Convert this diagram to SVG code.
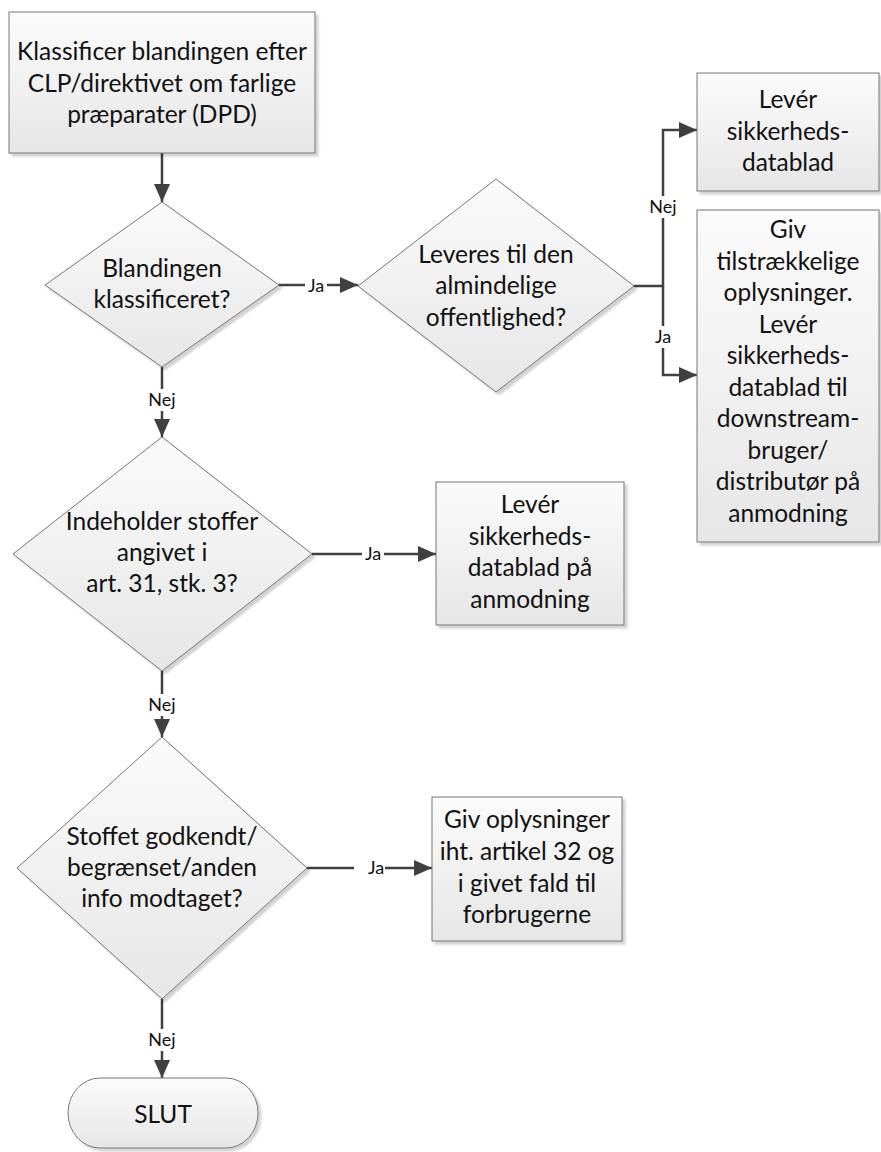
<svg xmlns="http://www.w3.org/2000/svg" width="881" height="1152" viewBox="0 0 881 1152">
<style>
.shape{fill:url(#g);stroke:#767676;stroke-width:1;filter:url(#sh)}
.t{font-family:Lato,"Liberation Sans",sans-serif;font-size:24.5px;fill:#111;text-anchor:middle}
.c{fill:none;stroke:#404040;stroke-width:2.5}
.ca{fill:none;stroke:#404040;stroke-width:2.5;marker-end:url(#ah)}
.lb{fill:#fff}
.l{font-family:Lato,"Liberation Sans",sans-serif;font-size:18px;fill:#111;text-anchor:middle}
</style>
<defs>
<linearGradient id="g" x1="0" y1="0" x2="0" y2="1">
<stop offset="0" stop-color="#fbfbfb"/>
<stop offset="1" stop-color="#e6e6e6"/>
</linearGradient>
<filter id="sh" x="-10%" y="-10%" width="130%" height="130%">
<feDropShadow dx="3" dy="3" stdDeviation="1" flood-color="#000" flood-opacity="0.18"/>
</filter>
<marker id="ah" markerUnits="userSpaceOnUse" markerWidth="18" markerHeight="16" refX="18" refY="8" orient="auto">
<path d="M0,0 L18,8 L0,16 z" fill="#404040"/>
</marker>
</defs>
<rect width="881" height="1152" fill="#fff"/>

<g id="connectors">
<path class="ca" d="M162,153 V202"/>
<path class="ca" d="M279,285 H358"/>
<path class="ca" d="M634,286 H663 V130 H697"/>
<path class="ca" d="M663,286 V375 H697"/>
<path class="ca" d="M162,367 V437"/>
<path class="ca" d="M312,554 H436"/>
<path class="ca" d="M162,671 V737"/>
<path class="ca" d="M307,868 H432"/>
<path class="ca" d="M162,999 V1078"/>
<g id="labels">
<rect class="lb" x="305" y="276" width="22" height="19"/><text class="l" x="316" y="291.5">Ja</text>
<rect class="lb" x="646" y="196" width="34" height="22"/><text class="l" x="663" y="213">Nej</text>
<rect class="lb" x="652" y="326" width="22" height="22"/><text class="l" x="663" y="343">Ja</text>
<rect class="lb" x="145" y="389" width="34" height="22"/><text class="l" x="162" y="406">Nej</text>
<rect class="lb" x="362" y="544" width="22" height="20"/><text class="l" x="373" y="560">Ja</text>
<rect class="lb" x="145" y="694" width="34" height="22"/><text class="l" x="162" y="711">Nej</text>
<rect class="lb" x="354" y="858" width="31" height="20"/><text class="l" x="376" y="874">Ja</text>
<rect class="lb" x="145" y="1029" width="34" height="22"/><text class="l" x="162" y="1046">Nej</text>
</g>
</g>

<g id="start">
<rect class="shape" x="9" y="12" width="306" height="141"/>
<text class="t" x="162" y="60">Klassificer blandingen efter</text>
<text class="t" x="162" y="91.5">CLP/direktivet om farlige</text>
<text class="t" x="162" y="123">præparater (DPD)</text>
</g>

<g id="d1">
<polygon class="shape" points="162,202 279,285 162,367 45,285"/>
<text class="t" x="162" y="277">Blandingen</text>
<text class="t" x="162" y="308">klassificeret?</text>
</g>

<g id="d2">
<polygon class="shape" points="496,179 634,286 496,392 358,286"/>
<text class="t" x="496" y="262.5">Leveres til den</text>
<text class="t" x="496" y="294">almindelige</text>
<text class="t" x="496" y="325.5">offentlighed?</text>
</g>

<g id="boxA">
<rect class="shape" x="697" y="73" width="182" height="118"/>
<text class="t" x="788" y="108">Levér</text>
<text class="t" x="788" y="140">sikkerheds-</text>
<text class="t" x="788" y="171">datablad</text>
</g>

<g id="boxB">
<rect class="shape" x="697" y="210" width="182" height="332"/>
<text class="t" x="788" y="238">Giv</text>
<text class="t" x="788" y="269.5">tilstrækkelige</text>
<text class="t" x="788" y="301">oplysninger.</text>
<text class="t" x="788" y="332.5">Levér</text>
<text class="t" x="788" y="364">sikkerheds-</text>
<text class="t" x="788" y="395.5">datablad til</text>
<text class="t" x="788" y="427">downstream-</text>
<text class="t" x="788" y="458.5">bruger/</text>
<text class="t" x="788" y="490">distributør på</text>
<text class="t" x="788" y="521.5">anmodning</text>
</g>

<g id="d3">
<polygon class="shape" points="162,437 312,554 162,671 13,554"/>
<text class="t" x="162" y="530">Indeholder stoffer</text>
<text class="t" x="162" y="561">angivet i</text>
<text class="t" x="162" y="592">art. 31, stk. 3?</text>
</g>

<g id="boxC">
<rect class="shape" x="436" y="482" width="188" height="143"/>
<text class="t" x="530" y="513">Levér</text>
<text class="t" x="530" y="544.5">sikkerheds-</text>
<text class="t" x="530" y="576">datablad på</text>
<text class="t" x="530" y="607.5">anmodning</text>
</g>

<g id="d4">
<polygon class="shape" points="162,737 307,868 162,999 17,868"/>
<text class="t" x="162" y="845">Stoffet godkendt/</text>
<text class="t" x="162" y="876">begrænset/anden</text>
<text class="t" x="162" y="907">info modtaget?</text>
</g>

<g id="boxD">
<rect class="shape" x="432" y="797" width="190" height="144"/>
<text class="t" x="527" y="828">Giv oplysninger</text>
<text class="t" x="527" y="860">iht. artikel 32 og</text>
<text class="t" x="527" y="892">i givet fald til</text>
<text class="t" x="527" y="923">forbrugerne</text>
</g>

<g id="end">
<rect class="shape" x="68" y="1078" width="190" height="70" rx="32" ry="35"/>
<text class="t" x="163" y="1123">SLUT</text>
</g>
</svg>
